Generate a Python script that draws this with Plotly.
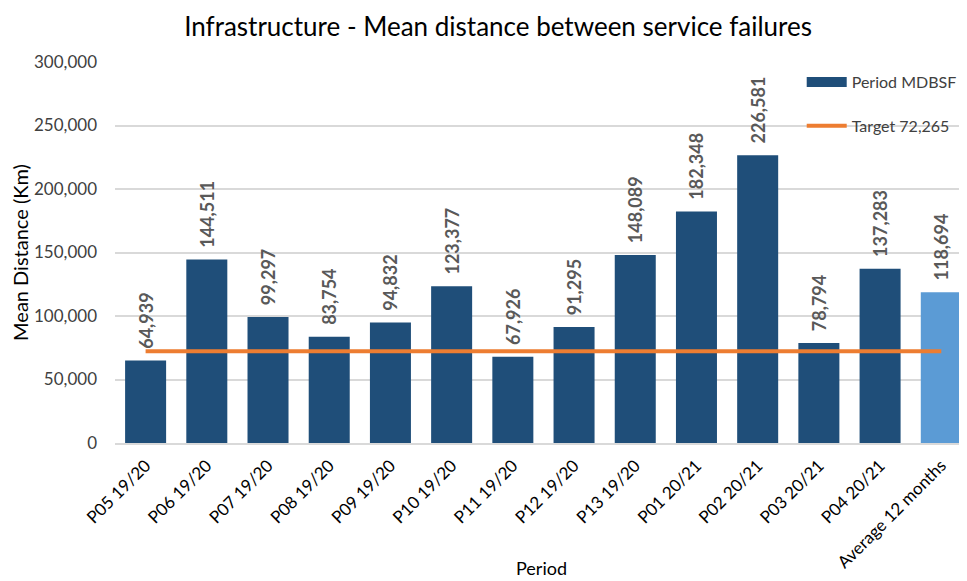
import plotly.graph_objects as go

categories = ["P05 19/20", "P06 19/20", "P07 19/20", "P08 19/20", "P09 19/20", "P10 19/20",
              "P11 19/20", "P12 19/20", "P13 19/20", "P01 20/21", "P02 20/21", "P03 20/21",
              "P04 20/21", "Average 12 months"]
period_mdbsf = [64939, 144511, 99297, 83754, 94832, 123377, 67926, 91295, 148089,
                182348, 226581, 78794, 137283, 118694]
target_value = 72265
target = [target_value] * len(categories)
y_ticks = [0, 50000, 100000, 150000, 200000, 250000, 300000]

dark = "#1F4E79"
light = "#5B9BD5"
bar_colors = [dark] * (len(categories) - 1) + [light]

FONT = "Lato, 'Open Sans', sans-serif"

fig = go.Figure()
fig.add_trace(go.Bar(
    x=categories, y=period_mdbsf, name="Period MDBSF",
    marker=dict(color=bar_colors, line=dict(width=0)),
    texttemplate="\u00a0\u00a0%{y:,.0f}", textposition="outside", textangle=-90,
    textfont=dict(family=FONT, size=18, color="#595959", weight="bold"),
    constraintext="none", cliponaxis=False, showlegend=False,
))
# legend entry drawn as a thick dark bar swatch
fig.add_trace(go.Scatter(
    x=[None], y=[None], name="Period MDBSF", mode="lines",
    line=dict(color=dark, width=10), showlegend=True, legendgroup="a",
))
fig.add_trace(go.Scatter(
    x=categories, y=target, name="Target 72,265", mode="lines",
    line=dict(color="#ED7D31", width=4), legendgroup="b",
))

fig.update_layout(
    width=959, height=573,
    margin=dict(l=107, r=0, t=54, b=138, autoexpand=False),
    paper_bgcolor="white", plot_bgcolor="white",
    font=dict(family=FONT, size=17, color="#404040"),
    title=dict(text="Infrastructure - Mean distance between service failures",
               x=0.511, xanchor="center", y=1 - 19 / 573, yanchor="middle",
               font=dict(family=FONT, size=26, color="#000000")),
    bargap=0.33,
    barmode="overlay",
    legend=dict(x=0.806, y=0.992, xanchor="left", yanchor="top",
                bgcolor="rgba(0,0,0,0)", font=dict(size=16, color="#404040"),
                tracegroupgap=20, itemwidth=40),
    showlegend=True,
    annotations=[dict(text="Period", xref="paper", yref="paper", x=0.5, y=-(560 - 435) / 381,
                      xanchor="center", yanchor="middle", showarrow=False,
                      font=dict(family=FONT, size=18, color="#000000"))],
)
fig.update_xaxes(
    type="category", tickangle=-45, showgrid=False, automargin=False,
    showline=True, linecolor="#D9D9D9", linewidth=2,
    range=[-0.5, 13.42], ticks="", ticklabelstandoff=4,
    tickfont=dict(size=17, color="#000000"),
)
fig.update_yaxes(
    range=[0, 300000], tickvals=y_ticks, tickformat=",.0f", automargin=False,
    showgrid=True, gridcolor="#D9D9D9", gridwidth=1.5, zeroline=False,
    showline=False, ticks="", ticklabelstandoff=17,
    tickfont=dict(size=17, color="#404040"),
    title=dict(text="Mean Distance (Km)", font=dict(size=20, color="#000000"), standoff=0),
)

fig.write_html("out.html")
